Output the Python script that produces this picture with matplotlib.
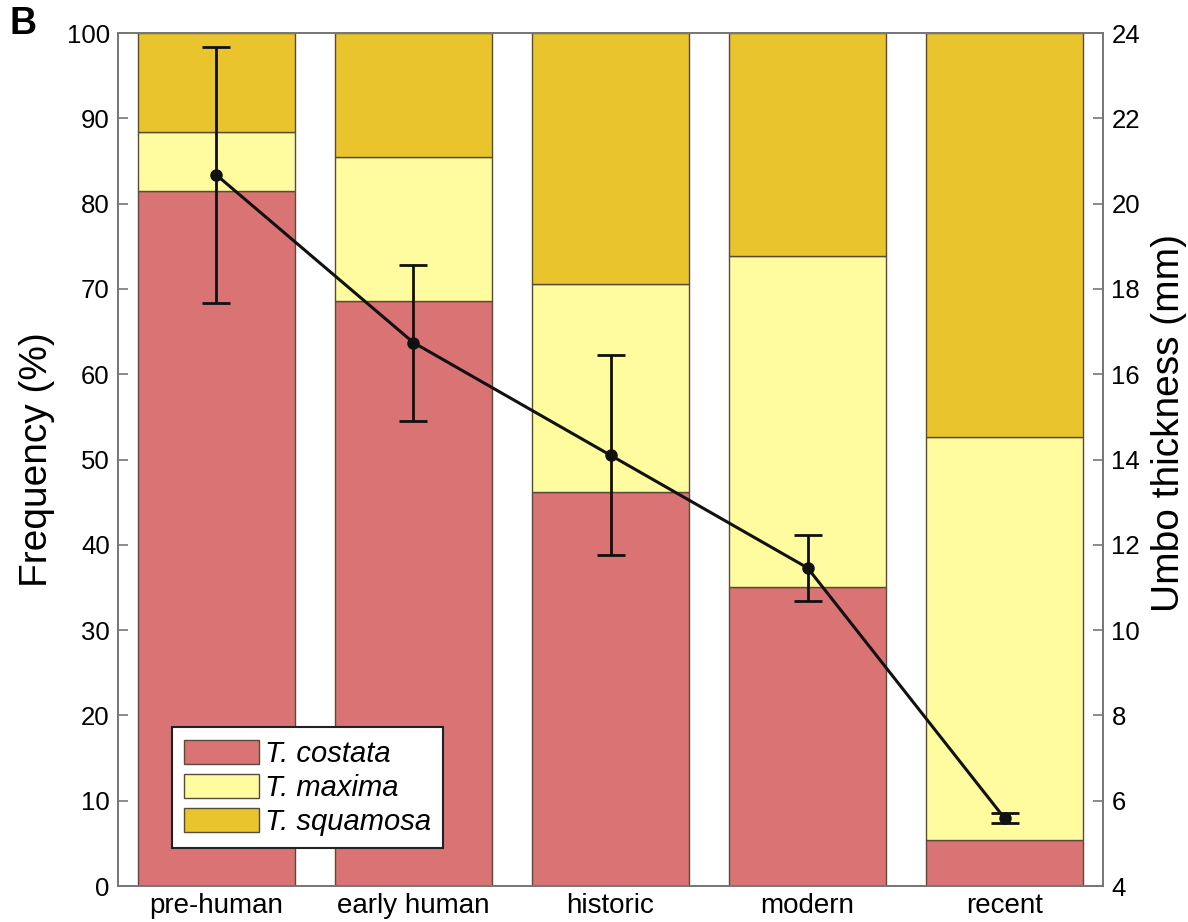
import matplotlib
matplotlib.use("Agg")
import matplotlib.pyplot as plt
import numpy as np

plt.rcParams['font.family'] = ['Liberation Sans', 'DejaVu Sans']

categories = ["pre-human", "early human", "historic", "modern", "recent"]
costata = [81.5, 68.6, 46.2, 35.1, 5.4]
maxima = [6.9, 16.9, 24.4, 38.8, 47.2]
squamosa = [11.6, 14.5, 29.4, 26.1, 47.4]
umbo_mean = [20.67, 16.74, 14.1, 11.46, 5.59]
umbo_err = [3.0, 1.83, 2.35, 0.77, 0.12]

species = ["T. costata", "T. maxima", "T. squamosa"]
colors = ["#D97374", "#FEFC9E", "#E9C42C"]

fig = plt.figure(figsize=(11.88, 9.22), dpi=100)
ax = fig.add_axes([0.0993, 0.039, 0.8292, 0.9252])
x = np.arange(1, len(categories) + 1)

bottom = np.zeros(len(categories))
handles = []
for vals, col, name in zip([costata, maxima, squamosa], colors, species):
    h = ax.bar(x, vals, width=0.8, bottom=bottom, color=col,
               edgecolor="#5a4a3a", linewidth=1.0, label=name, zorder=2)
    handles.append(h)
    bottom += np.array(vals)

spine_col = "#777777"
ax.set_xlim(0.5, 5.5)
ax.set_ylim(0, 100)
ax.set_yticks(np.arange(0, 101, 10))
ax.set_xticks(x)
ax.set_xticklabels(categories, fontsize=20)
ax.tick_params(axis='x', length=0, pad=5)
ax.tick_params(axis='y', direction='in', length=7, width=1.2, color=spine_col,
               labelsize=18.5, pad=6)
ax.set_ylabel("Frequency (%)", fontsize=28, labelpad=8)
for s in ax.spines.values():
    s.set_color(spine_col)
    s.set_linewidth(1.3)

ax2 = ax.twinx()
ax2.errorbar(x, umbo_mean, yerr=umbo_err, color="#111111", linewidth=2.2,
             marker="o", markersize=8, capsize=10, capthick=2.0,
             elinewidth=2.0, zorder=5)
ax2.set_ylim(4, 24)
ax2.set_yticks(np.arange(4, 25, 2))
ax2.tick_params(axis='y', direction='in', length=7, width=1.2, color=spine_col,
                labelsize=18.5, pad=6)
ax2.set_ylabel("Umbo thickness (mm)", fontsize=28, labelpad=8)
ax2.yaxis.label.set_y(0.543)
for s in ax2.spines.values():
    s.set_color(spine_col)
    s.set_linewidth(1.3)

leg = ax2.legend(handles, species, loc="lower left",
                 bbox_to_anchor=(0.055, 0.0445),
                 prop={'style': 'italic', 'size': 21},
                 frameon=True, fancybox=False, edgecolor="#222222",
                 facecolor="white", framealpha=1.0,
                 handlelength=2.55, handleheight=0.9, labelspacing=0.2,
                 borderpad=0.42, handletextpad=0.2, borderaxespad=0)
leg.get_frame().set_linewidth(1.5)

fig.text(0.008, 0.9745, "B", fontsize=27, fontweight="bold", va="center")

fig.savefig("out.png", dpi=100)
